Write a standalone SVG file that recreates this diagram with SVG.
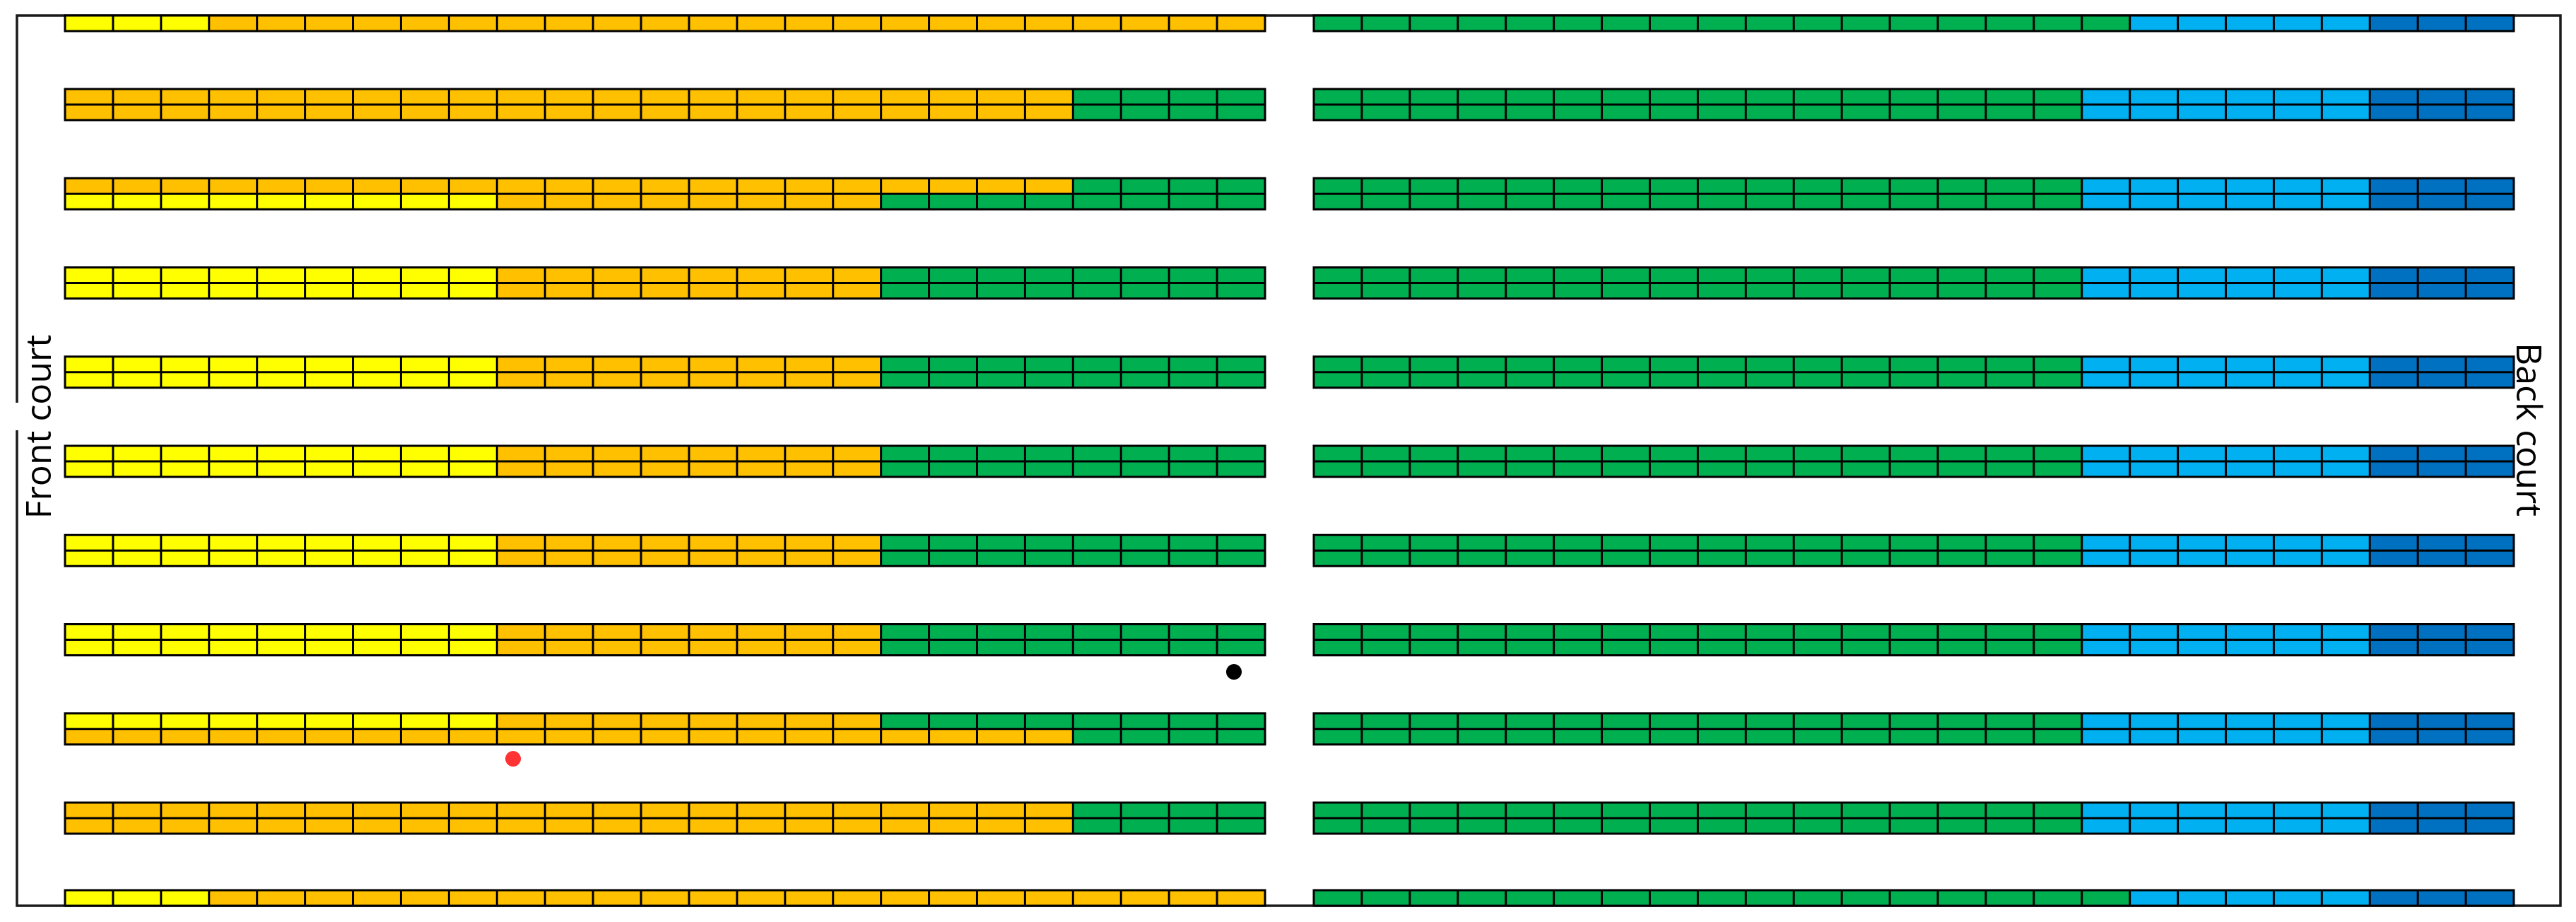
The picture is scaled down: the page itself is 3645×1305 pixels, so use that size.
<svg xmlns="http://www.w3.org/2000/svg" xmlns:xlink="http://www.w3.org/1999/xlink" width="3645" height="1305" viewBox="0 0 3645 1305">
<style>
.y{fill:#FFFF00}.o{fill:#FFC000}.g{fill:#00B050}.lb{fill:#00B0F0}.db{fill:#0070C0}
.grid{fill:none;stroke:#000;stroke-width:3}
.wall{fill:none;stroke:#1a1a1a;stroke-width:3.5}
.lbl{font-family:"Open Sans","Noto Sans","DejaVu Sans",sans-serif;font-size:50px;fill:#000}
</style>
<defs>
<path id="vl" d="M67.92 0v44M135.84 0v44M203.76 0v44M271.68 0v44M339.6 0v44M407.52 0v44M475.44 0v44M543.36 0v44M611.28 0v44M679.2 0v44M747.12 0v44M815.04 0v44M882.96 0v44M950.88 0v44M1018.8 0v44M1086.72 0v44M1154.64 0v44M1222.56 0v44M1290.48 0v44M1358.4 0v44M1426.32 0v44M1494.24 0v44M1562.16 0v44M1630.08 0v44"/>
<path id="vs" d="M67.92 0v22M135.84 0v22M203.76 0v22M271.68 0v22M339.6 0v22M407.52 0v22M475.44 0v22M543.36 0v22M611.28 0v22M679.2 0v22M747.12 0v22M815.04 0v22M882.96 0v22M950.88 0v22M1018.8 0v22M1086.72 0v22M1154.64 0v22M1222.56 0v22M1290.48 0v22M1358.4 0v22M1426.32 0v22M1494.24 0v22M1562.16 0v22M1630.08 0v22"/>
<g id="gridD" class="grid"><use xlink:href="#vl" href="#vl"/><path d="M0 22H1698"/><rect x="0" y="0" width="1698" height="44"/></g>
<g id="gridS" class="grid"><use xlink:href="#vs" href="#vs"/><rect x="0" y="0" width="1698" height="22"/></g>
<!-- left fills -->
<g id="fYOG"><rect class="y" x="0" y="0" width="611.28" height="22"/><rect class="o" x="611.28" y="0" width="543.36" height="22"/><rect class="g" x="1154.64" y="0" width="543.36" height="22"/></g>
<g id="fOG"><rect class="o" x="0" y="0" width="1426.32" height="22"/><rect class="g" x="1426.32" y="0" width="271.68" height="22"/></g>
<g id="fYO"><rect class="y" x="0" y="0" width="203.76" height="22"/><rect class="o" x="203.76" y="0" width="1494.24" height="22"/></g>
<!-- right fills -->
<g id="fR16"><rect class="g" x="0" y="0" width="1086.72" height="22"/><rect class="lb" x="1086.72" y="0" width="407.52" height="22"/><rect class="db" x="1494.24" y="0" width="203.76" height="22"/></g>
<g id="fR17"><rect class="g" x="0" y="0" width="1154.64" height="22"/><rect class="lb" x="1154.64" y="0" width="339.6" height="22"/><rect class="db" x="1494.24" y="0" width="203.76" height="22"/></g>
</defs>
<rect width="3645" height="1305" fill="#fff"/>
<g id="walls" class="wall">
<path d="M24 570V22H3623V1282H24V609"/>
</g>
<g id="left-racks">
<g id="L1" transform="translate(92,22)"><use href="#fYO"/><use href="#gridS"/></g>
<g id="L2" transform="translate(92,126)"><use href="#fOG"/><use href="#fOG" y="22"/><use href="#gridD"/></g>
<g id="L3" transform="translate(92,252.25)"><use href="#fOG"/><use href="#fYOG" y="22"/><use href="#gridD"/></g>
<g id="L4" transform="translate(92,378.5)"><use href="#fYOG"/><use href="#fYOG" y="22"/><use href="#gridD"/></g>
<g id="L5" transform="translate(92,504.75)"><use href="#fYOG"/><use href="#fYOG" y="22"/><use href="#gridD"/></g>
<g id="L6" transform="translate(92,631)"><use href="#fYOG"/><use href="#fYOG" y="22"/><use href="#gridD"/></g>
<g id="L7" transform="translate(92,757.25)"><use href="#fYOG"/><use href="#fYOG" y="22"/><use href="#gridD"/></g>
<g id="L8" transform="translate(92,883.5)"><use href="#fYOG"/><use href="#fYOG" y="22"/><use href="#gridD"/></g>
<g id="L9" transform="translate(92,1009.75)"><use href="#fYOG"/><use href="#fOG" y="22"/><use href="#gridD"/></g>
<g id="L10" transform="translate(92,1136)"><use href="#fOG"/><use href="#fOG" y="22"/><use href="#gridD"/></g>
<g id="L11" transform="translate(92,1260)"><use href="#fYO"/><use href="#gridS"/></g>
</g>
<g id="right-racks">
<g id="R1" transform="translate(1859,22)"><use href="#fR17"/><use href="#gridS"/></g>
<g id="R2" transform="translate(1859,126)"><use href="#fR16"/><use href="#fR16" y="22"/><use href="#gridD"/></g>
<g id="R3" transform="translate(1859,252.25)"><use href="#fR16"/><use href="#fR16" y="22"/><use href="#gridD"/></g>
<g id="R4" transform="translate(1859,378.5)"><use href="#fR16"/><use href="#fR16" y="22"/><use href="#gridD"/></g>
<g id="R5" transform="translate(1859,504.75)"><use href="#fR16"/><use href="#fR16" y="22"/><use href="#gridD"/></g>
<g id="R6" transform="translate(1859,631)"><use href="#fR16"/><use href="#fR16" y="22"/><use href="#gridD"/></g>
<g id="R7" transform="translate(1859,757.25)"><use href="#fR16"/><use href="#fR16" y="22"/><use href="#gridD"/></g>
<g id="R8" transform="translate(1859,883.5)"><use href="#fR16"/><use href="#fR16" y="22"/><use href="#gridD"/></g>
<g id="R9" transform="translate(1859,1009.75)"><use href="#fR16"/><use href="#fR16" y="22"/><use href="#gridD"/></g>
<g id="R10" transform="translate(1859,1136)"><use href="#fR16"/><use href="#fR16" y="22"/><use href="#gridD"/></g>
<g id="R11" transform="translate(1859,1260)"><use href="#fR17"/><use href="#gridS"/></g>
</g>
<g id="markers">
<circle id="dot-black" cx="1746" cy="951" r="11" fill="#000"/>
<circle id="dot-red" cx="726" cy="1074" r="11" fill="#FF3333"/>
</g>
<g id="labels">
<text class="lbl" transform="translate(72,604) rotate(-90)" text-anchor="middle">Front court</text>
<text class="lbl" transform="translate(3561,608) rotate(90)" text-anchor="middle">Back court</text>
</g>
</svg>
